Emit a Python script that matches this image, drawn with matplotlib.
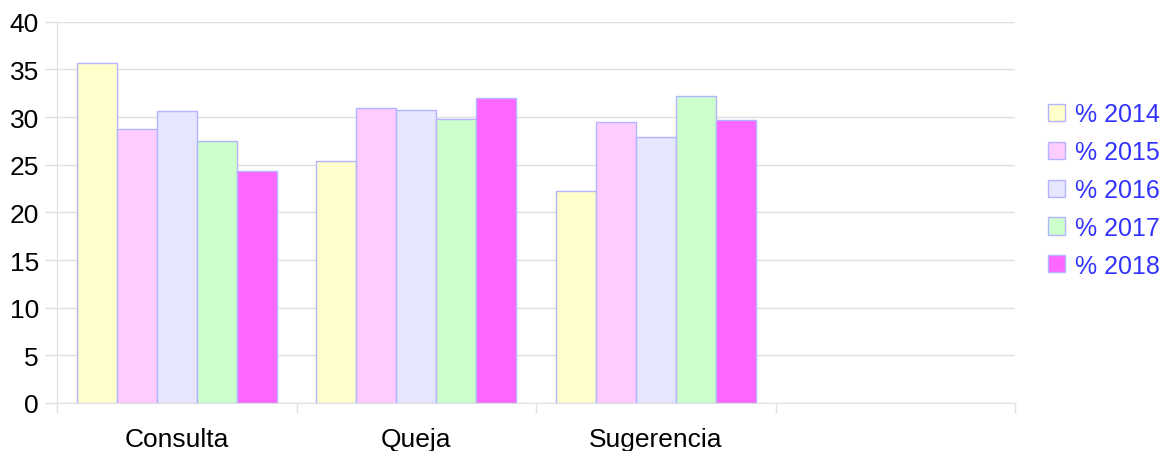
import matplotlib
matplotlib.use("Agg")
import matplotlib.pyplot as plt
import numpy as np
from matplotlib.patches import Patch

categories = ["Consulta", "Queja", "Sugerencia", ""]
series_labels = ["% 2014", "% 2015", "% 2016", "% 2017", "% 2018"]
v2014 = [35.7, 25.4, 22.2]
v2015 = [28.7, 30.9, 29.5]
v2016 = [30.6, 30.7, 27.9]
v2017 = [27.5, 29.8, 32.2]
v2018 = [24.3, 32.0, 29.7]
y_ticks = [0, 5, 10, 15, 20, 25, 30, 35, 40]

series = [v2014, v2015, v2016, v2017, v2018]
colors = ["#ffffcc", "#ffccff", "#e6e6ff", "#ccffcc", "#ff66ff"]
edge = "#b3b3ff"
grid_c = "#e0e0e0"

plt.rcParams["font.family"] = ["Liberation Sans", "DejaVu Sans"]

W, H = 1167, 452
PX = 72 / 100  # points per pixel
fig = plt.figure(figsize=(W / 100, H / 100), dpi=100)
ax = fig.add_axes([57 / W, (H - 404) / H, (1015 - 57) / W, (404 - 22.7) / H])

n = len(series)
bw = 1 / 6
x = np.arange(len(v2014))
for i, (vals, c) in enumerate(zip(series, colors)):
    offs = (i - (n - 1) / 2) * bw
    ax.bar(x + offs, vals, width=bw, color=c, edgecolor=edge, linewidth=1, zorder=3)

ax.set_xlim(-0.5, len(categories) - 0.5)
ax.set_ylim(0, 40)
ax.set_yticks(y_ticks)
ax.set_yticklabels([str(t) for t in y_ticks])
ax.yaxis.grid(True, color=grid_c, linewidth=1, zorder=0)
ax.tick_params(axis="y", length=12 * PX, color=grid_c, width=1, pad=6 * PX,
               labelsize=19, labelcolor="black")

ax.set_xticks(np.arange(len(categories)))
ax.set_xticklabels(categories)
ax.set_xticks(np.arange(len(categories) + 1) - 0.5, minor=True)
ax.tick_params(axis="x", which="major", length=0, pad=24 * PX, labelsize=19)
ax.tick_params(axis="x", which="minor", length=10 * PX, color=grid_c, width=1)

for s in ["top", "right"]:
    ax.spines[s].set_visible(False)
ax.spines["left"].set_color(grid_c)
ax.spines["bottom"].set_color(grid_c)
ax.spines["left"].set_bounds(0, 40)

handles = [Patch(facecolor=c, edgecolor=edge, linewidth=1) for c in colors]
leg = fig.legend(handles, series_labels, loc="center left",
                 bbox_to_anchor=(1038 / W, (H - 191) / H), frameon=False,
                 borderaxespad=0, fontsize=18, handlelength=0.68, handleheight=0.68,
                 handletextpad=0.4, labelspacing=0.55, labelcolor="#3333ff")

fig.savefig("out.png", dpi=100)
